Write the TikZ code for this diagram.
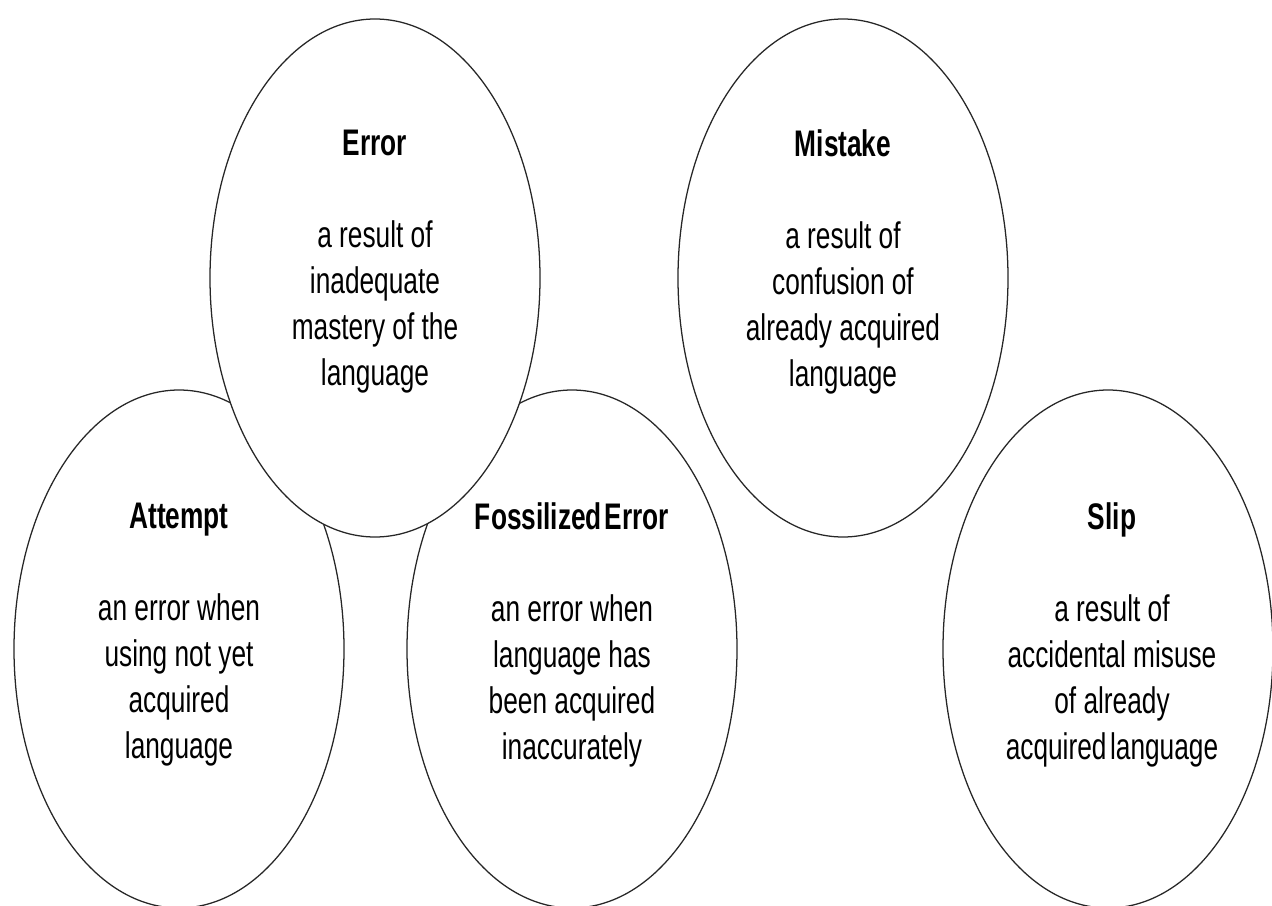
\documentclass[tikz,border=0pt]{standalone}
\usepackage{fontspec}
\setmainfont{Liberation Sans}[FakeStretch=0.71]
\usetikzlibrary{shapes.geometric}
\begin{document}
\begin{tikzpicture}[x=0.75pt,y=-0.75pt,
  oval/.style={ellipse, draw=black!85, line width=0.95pt, fill=white,
    minimum width=247.5pt, minimum height=388.5pt, inner sep=0pt},
  body/.style={align=center, font=\fontsize{27.75pt}{34.5pt}\selectfont, inner sep=0pt}]
\useasboundingbox (0,0) rectangle (1272,906);
\node[oval] (att) at (179,649) {};
\node[oval] (fos) at (572,649) {};
\node[oval] (err) at (375,278) {};
\node[oval] (mis) at (843,278) {};
\node[oval] (slp) at (1108,649) {};
\node[body] (errt) at (375,262) {\textbf{Error}\\[34.5pt]a result of\\inadequate\\mastery of the\\language};
\node[body] (mist) at (843,262) {\textbf{Mistake}\\[34.5pt]a result of\\confusion of\\already acquired\\language};
\node[body] (attt) at (179,635) {\textbf{Attempt}\\[34.5pt]an error when\\using not yet\\acquired\\language};
\node[body] (fost) at (572,635) {\textbf{Fossilized\hspace{-0.12em} Error}\\[34.5pt]an error when\\language has\\been acquired\\inaccurately};
\node[body] (slpt) at (1112,635) {\textbf{Slip}\\[34.5pt]a result of\\accidental misuse\\of already\\acquired\hspace{-0.1em} language};
\end{tikzpicture}
\end{document}
